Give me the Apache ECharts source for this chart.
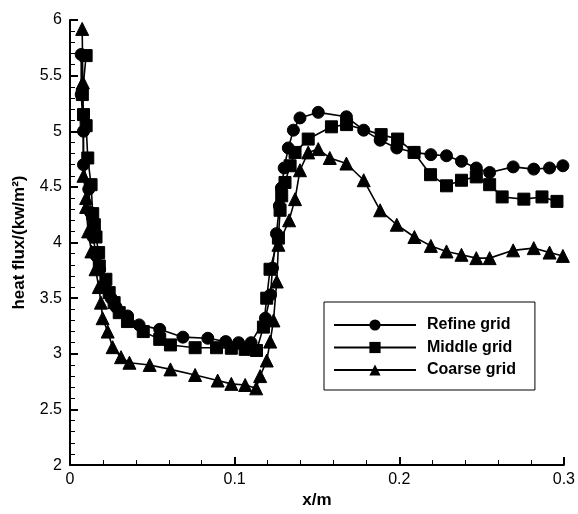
<!DOCTYPE html>
<html>
<head>
<meta charset="utf-8">
<script src="https://cdn.jsdelivr.net/npm/echarts@6/dist/echarts.min.js"></script>
<style>html,body{margin:0;padding:0;background:#fff}#c{width:578px;height:514px}</style>
</head>
<body>
<div id="c"></div>
<script>
var seriesNames = ['Refine grid', 'Middle grid', 'Coarse grid'];
var xTicks = [0, 0.1, 0.2, 0.3];
var yTicks = [2, 2.5, 3, 3.5, 4, 4.5, 5, 5.5, 6];

var refineX = [0.0068,0.0068,0.0082,0.0082,0.0114,0.0125,0.014,0.016,0.018,0.021,0.025,0.028,0.035,0.042,0.0545,0.0686,0.0837,0.0946,0.1024,0.110,0.1187,0.1218,0.1230,0.1254,0.1272,0.1284,0.1301,0.1326,0.1357,0.1397,0.1508,0.1679,0.1784,0.1884,0.1985,0.2092,0.2192,0.2287,0.2378,0.2468,0.2549,0.2692,0.2817,0.2913,0.2994];
var refineY = [5.69,5.33,5.00,4.70,4.48,4.27,4.05,3.88,3.76,3.62,3.50,3.42,3.34,3.26,3.22,3.15,3.14,3.11,3.10,3.10,3.32,3.53,3.77,4.08,4.33,4.49,4.67,4.85,5.01,5.12,5.17,5.13,5.01,4.92,4.85,4.81,4.79,4.78,4.73,4.67,4.63,4.68,4.66,4.67,4.69];

var middleX = [0.0098,0.0075,0.0082,0.0098,0.0108,0.0128,0.0138,0.0148,0.0158,0.0174,0.0178,0.0218,0.0238,0.0268,0.0299,0.0349,0.0445,0.0545,0.061,0.076,0.089,0.098,0.1064,0.1133,0.1175,0.1195,0.1215,0.1266,0.1276,0.1286,0.1306,0.1337,0.1367,0.1447,0.1588,0.168,0.189,0.199,0.209,0.219,0.2287,0.2378,0.2468,0.2549,0.2625,0.2757,0.2867,0.2958];
var middleY = [5.68,5.33,5.15,5.05,4.76,4.52,4.26,4.16,4.05,3.91,3.79,3.67,3.55,3.46,3.37,3.29,3.20,3.13,3.08,3.055,3.055,3.05,3.04,3.03,3.24,3.50,3.76,4.04,4.29,4.42,4.54,4.69,4.81,4.93,5.04,5.06,4.97,4.93,4.81,4.61,4.51,4.56,4.59,4.52,4.41,4.39,4.41,4.37];

var coarseX = [0.0074,0.0078,0.0082,0.0098,0.0098,0.011,0.013,0.0155,0.0175,0.0188,0.0198,0.0229,0.0259,0.031,0.0361,0.0484,0.061,0.076,0.0897,0.098,0.1064,0.1131,0.1155,0.1195,0.1216,0.1236,0.1256,0.1266,0.1331,0.1367,0.1397,0.1447,0.1508,0.1578,0.1679,0.1784,0.1884,0.1985,0.2092,0.2192,0.2287,0.2378,0.2468,0.2549,0.2692,0.2817,0.2913,0.2994];
var coarseY = [5.92,5.44,4.60,4.40,4.32,4.10,3.92,3.76,3.60,3.46,3.32,3.20,3.06,2.97,2.92,2.90,2.86,2.81,2.76,2.73,2.72,2.69,2.80,2.94,3.11,3.30,3.65,3.98,4.20,4.39,4.65,4.81,4.84,4.76,4.71,4.56,4.29,4.16,4.05,3.97,3.92,3.89,3.86,3.86,3.93,3.95,3.91,3.88];

function zip(xs, ys) { return xs.map(function (x, i) { return [x, ys[i]]; }); }

var symbols = ['circle', 'rect', 'triangle'];
var symbolSizes = [12, 12, 13];
var datas = [zip(refineX, refineY), zip(middleX, middleY), zip(coarseX, coarseY)];

var font = 'Liberation Sans, Arial, Helvetica, sans-serif';
var chart = echarts.init(document.getElementById('c'), null, { renderer: 'canvas' });
chart.setOption({
  animation: false,
  backgroundColor: '#fff',
  grid: { left: 70, right: 11, top: 20, bottom: 42, containLabel: false },
  legend: {
    orient: 'vertical',
    left: 324, top: 302,
    padding: [15, 19, 12, 9],
    borderColor: '#000', borderWidth: 1,
    backgroundColor: '#fff',
    itemWidth: 82, itemHeight: 14, itemGap: 6.5,
    textStyle: { fontFamily: font, fontSize: 16, fontWeight: 'bold', color: '#000', padding: [0, 0, 0, 6] },
    data: seriesNames
  },
  xAxis: {
    type: 'value', min: 0, max: 0.3, interval: 0.1,
    name: 'x/m', nameLocation: 'middle', nameGap: 24,
    nameTextStyle: { fontFamily: font, fontSize: 17, fontWeight: 'bold', color: '#000' },
    axisLine: { lineStyle: { color: '#000', width: 2 } },
    axisTick: { inside: true, length: 8, lineStyle: { color: '#000', width: 2 } },
    minorTick: { show: true, splitNumber: 5, length: 5, lineStyle: { color: '#000', width: 1 } },
    splitLine: { show: false },
    axisLabel: { fontFamily: font, fontSize: 16, color: '#000', margin: 6,
      formatter: function (v) { var i = xTicks.indexOf(Math.round(v * 10) / 10); return i >= 0 ? String(xTicks[i]) : ''; } }
  },
  yAxis: {
    type: 'value', min: 2, max: 6, interval: 0.5,
    name: 'heat flux/(kw/m²)', nameLocation: 'middle', nameGap: 42,
    nameTextStyle: { fontFamily: font, fontSize: 17, fontWeight: 'bold', color: '#000' },
    axisLine: { show: true, lineStyle: { color: '#000', width: 2 } },
    axisTick: { show: true, inside: true, length: 8, lineStyle: { color: '#000', width: 2 } },
    minorTick: { show: true, splitNumber: 5, length: 5, lineStyle: { color: '#000', width: 1 } },
    splitLine: { show: false },
    axisLabel: { fontFamily: font, fontSize: 16, color: '#000', margin: 8,
      formatter: function (v) { var i = yTicks.indexOf(Math.round(v * 10) / 10); return i >= 0 ? String(yTicks[i]) : ''; } }
  },
  series: seriesNames.map(function (n, k) {
    return {
      name: n, type: 'line', data: datas[k],
      symbol: symbols[k], symbolSize: symbolSizes[k], showAllSymbol: true,
      itemStyle: { color: '#000', borderColor: '#000' },
      lineStyle: { color: '#000', width: 1.6 },
      smooth: false
    };
  })
});
</script>
</body>
</html>
